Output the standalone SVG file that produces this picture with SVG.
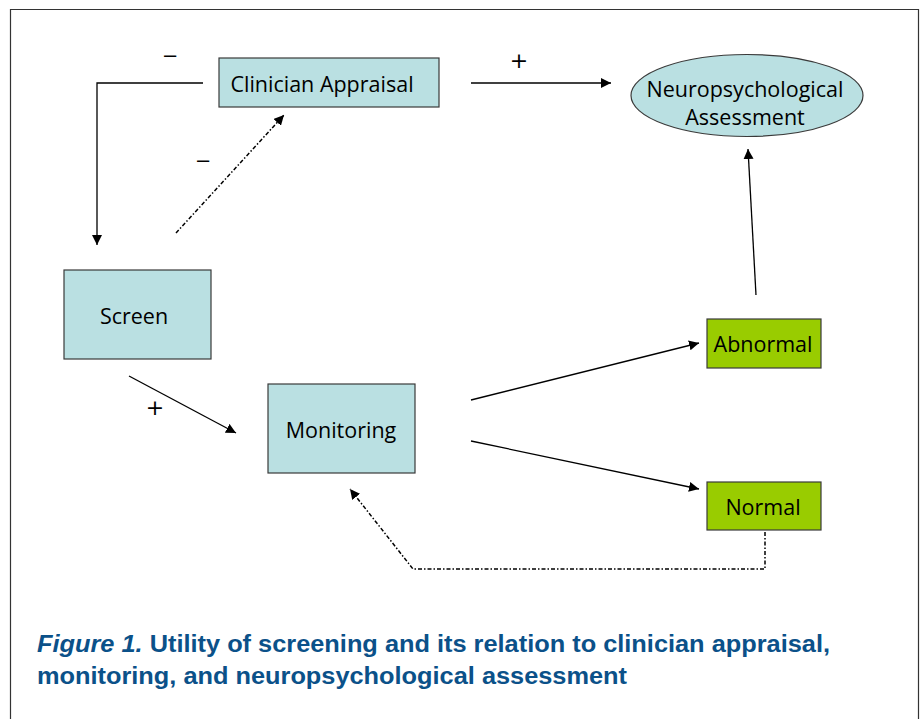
<svg xmlns="http://www.w3.org/2000/svg" width="923" height="719" viewBox="0 0 923 719">
<style>
.box{fill:#bae0e2;stroke:#3a3a3a;stroke-width:1.2}
.grn{fill:#99cc00;stroke:#3a3a3a;stroke-width:1.2}
.lbl{font-family:"Open Sans","Noto Sans",sans-serif;font-size:21.5px;fill:#000;text-anchor:middle}
.sign{font-family:"Liberation Sans",Arial,sans-serif;font-size:22px;fill:#000;text-anchor:middle}
.plus{font-family:"DejaVu Sans",sans-serif;font-size:22px;fill:#000;text-anchor:middle}
.ln{fill:none;stroke:#000;stroke-width:1.3}
.dd{fill:none;stroke:#000;stroke-width:1.5;stroke-dasharray:4 2 1.5 2}
.cap{font-family:"Liberation Sans",Arial,sans-serif;font-weight:bold;font-size:23px;fill:#0b5189}
</style>
<defs>
<marker id="ah" viewBox="0 0 10 10" refX="10" refY="5" markerWidth="10" markerHeight="10" markerUnits="userSpaceOnUse" orient="auto">
<path d="M0,0 L10,5 L0,10 z" fill="#000"/>
</marker>
</defs>
<rect x="0" y="0" width="923" height="719" fill="#fff"/>
<path d="M10.5,719 V9.5 H918.5 V719" fill="none" stroke="#333" stroke-width="1.2"/>

<g id="connectors">
<path class="ln" d="M203,83 H97 V245" marker-end="url(#ah)"/>
<path class="dd" d="M176,233 L284,115" marker-end="url(#ah)"/>
<path class="ln" d="M471,83 H611" marker-end="url(#ah)"/>
<path class="ln" d="M129,376 L236,433" marker-end="url(#ah)"/>
<path class="ln" d="M471,400 L699,343" marker-end="url(#ah)"/>
<path class="ln" d="M471,441 L699,489" marker-end="url(#ah)"/>
<path class="ln" d="M756,295 L748,149" marker-end="url(#ah)"/>
<path class="dd" d="M765,532 V569 H413 L350,489" marker-end="url(#ah)"/>
<text class="sign" x="170" y="62">–</text>
<text class="sign" x="203" y="167">–</text>
<text class="plus" x="519" y="68">+</text>
<text class="plus" x="155" y="415">+</text>
</g>

<g id="clinician">
<rect class="box" x="219" y="58" width="220" height="49"/>
<text class="lbl" x="322" y="92">Clinician Appraisal</text>
</g>
<g id="neuro">
<ellipse class="box" cx="747" cy="95.5" rx="116" ry="41"/>
<text class="lbl" x="745" y="97">Neuropsychological</text>
<text class="lbl" x="745" y="125">Assessment</text>
</g>
<g id="screen">
<rect class="box" x="64" y="270" width="147" height="89"/>
<text class="lbl" x="134" y="324">Screen</text>
</g>
<g id="monitoring">
<rect class="box" x="268" y="384" width="147" height="89"/>
<text class="lbl" x="341" y="438">Monitoring</text>
</g>
<g id="abnormal">
<rect class="grn" x="707" y="319" width="114" height="49"/>
<text class="lbl" x="763" y="352">Abnormal</text>
</g>
<g id="normal">
<rect class="grn" x="707" y="482" width="114" height="48"/>
<text class="lbl" x="763" y="515">Normal</text>
</g>

<g id="caption">
<text class="cap" x="37" y="652" textLength="793" lengthAdjust="spacingAndGlyphs"><tspan font-style="italic">Figure 1.</tspan> Utility of screening and its relation to clinician appraisal,</text>
<text class="cap" x="37" y="684" textLength="590" lengthAdjust="spacingAndGlyphs">monitoring, and neuropsychological  assessment</text>
</g>
</svg>
